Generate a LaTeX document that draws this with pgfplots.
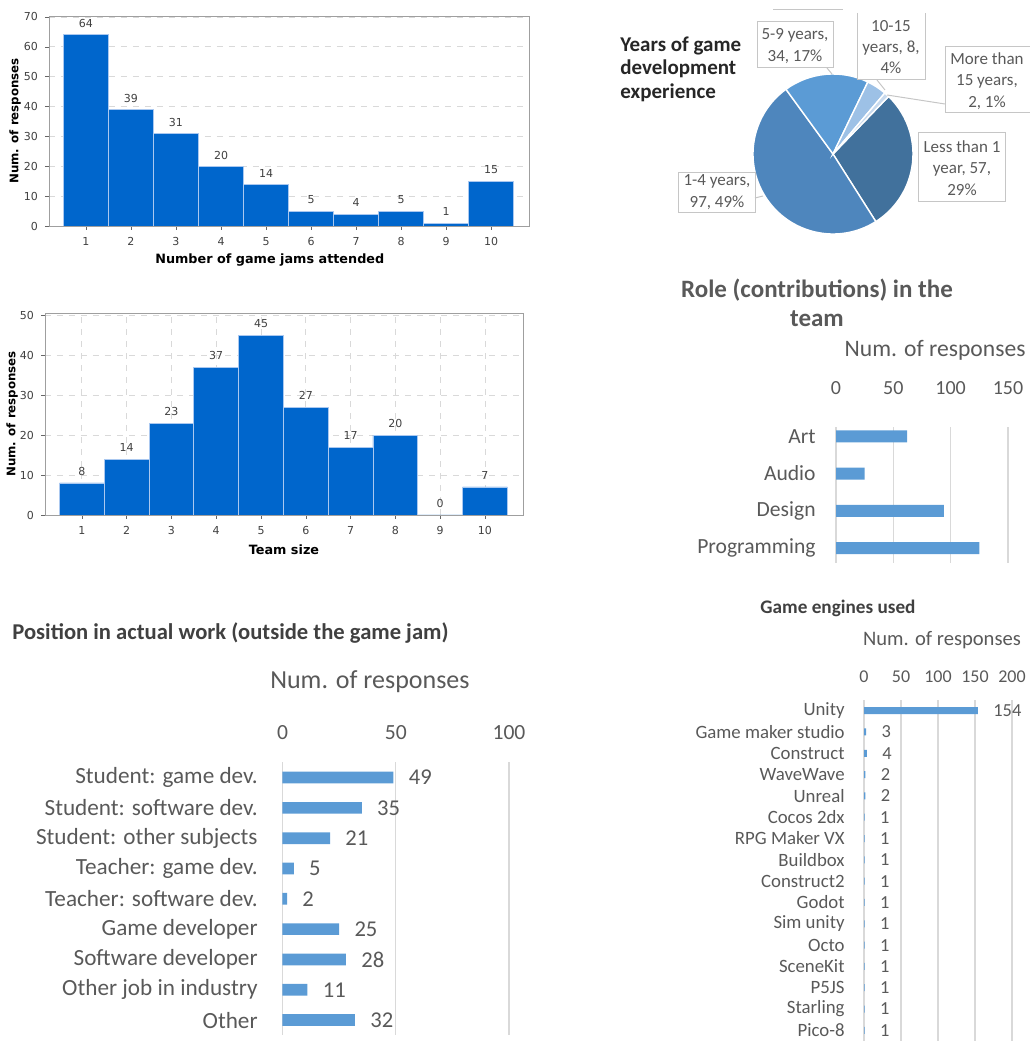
\documentclass[border=0pt]{standalone}
\usepackage{fontspec}
\setmainfont{Carlito}
\newfontfamily\tah{DejaVu Sans}
\usepackage{pgfplots}
\pgfplotsset{compat=1.18}

\definecolor{histblue}{RGB}{0,102,204}
\definecolor{histedge}{RGB}{170,200,240}
\definecolor{xlblue}{RGB}{91,155,213}
\definecolor{xlgray}{RGB}{89,89,89}
\definecolor{xldark}{RGB}{64,64,64}
\definecolor{xlgrid}{RGB}{217,217,217}
\definecolor{pieA}{RGB}{65,113,156}
\definecolor{pieB}{RGB}{78,134,189}
\definecolor{pieC}{RGB}{91,155,213}
\definecolor{pieD}{RGB}{157,193,230}
\definecolor{pieE}{RGB}{200,218,238}

\pgfplotsset{
  hist/.style={
    scale only axis, ybar, bar width=1,
    ymin=0, xtick={1,...,10},
    tick align=outside, xtick pos=left, ytick pos=left,
    major tick length=2pt,
    axis line style={draw=gray!75},
    tick style={gray!80!black},
    ticklabel style={font=\tah\fontsize{5.5}{6}\selectfont, text=black!75},
    xlabel style={font=\tah\bfseries\fontsize{6.4}{7}\selectfont},
    ylabel style={font=\tah\bfseries\fontsize{5.9}{7}\selectfont},
    grid style={dashed, gray!30},
    ylabel={Num. of responses},
    /pgf/number format/assume math mode=true,
    nodes near coords,
    nodes near coords style={font=\tah\fontsize{5.5}{6}\selectfont, text=black!75},
  },
  xl/.style={
    scale only axis, xbar, xmin=0, y dir=reverse,
    axis x line*=top, axis y line*=left,
    axis line style={draw=none}, major tick length=0pt,
    xmajorgrids, grid style={xlgrid, line width=0.6pt},
    ticklabel style={text=xlgray, inner sep=0pt},
    label style={text=xlgray},
    xlabel={Num. of responses},
    /pgf/number format/assume math mode=true,
  },
}

\begin{document}
\begin{tikzpicture}

% game jams attended
\begin{axis}[hist, at={(24.5pt,407.5pt)}, anchor=south west,
  width=240pt, height=105pt, xmin=0.18, xmax=10.84, ymax=70.3,
  ytick={0,10,...,70}, ymajorgrids,
  ylabel style={at={(axis description cs:-0.0708,0.5)}, anchor=center},
  xlabel style={at={(axis description cs:0.46,0)}, anchor=center, yshift=-17pt},
  xlabel={Number of game jams attended}]
\addplot[fill=histblue, draw=histedge, line width=0.4pt] coordinates {
  (1,64) (2,39) (3,31) (4,20) (5,14) (6,5) (7,4) (8,5) (9,1) (10,15)};
\end{axis}

% team size
\begin{axis}[hist, at={(22.5pt,263pt)}, anchor=south west,
  width=239pt, height=101pt, xmin=0.176, xmax=10.85, ymax=50.5,
  ytick={0,10,...,50}, ymajorgrids, xmajorgrids,
  ylabel style={at={(axis description cs:-0.069,0.5)}, anchor=center},
  xlabel style={at={(axis description cs:0.5,0)}, anchor=center, yshift=-17.5pt},
  xlabel={Team size}]
\addplot[fill=histblue, draw=histedge, line width=0.4pt] coordinates {
  (1,8) (2,14) (3,23) (4,37) (5,45) (6,27) (7,17) (8,20) (9,0) (10,7)};
\end{axis}

% years of experience (pie)
\pgfmathsetmacro\aA{46}
\pgfmathsetmacro\aB{\aA-57/198*360}
\pgfmathsetmacro\aC{\aB-97/198*360}
\pgfmathsetmacro\aD{\aC-34/198*360}
\pgfmathsetmacro\aE{\aD-8/198*360}
\pgfmathsetmacro\aF{\aE-2/198*360}
\begin{axis}[at={(416.5pt,443.5pt)}, anchor=center, scale only axis,
  width=80pt, height=80pt, xmin=-1, xmax=1, ymin=-1, ymax=1, hide axis]
\fill[pieA, draw=white, line width=0.7pt] (axis cs:0,0) -- ++(\aA:40pt) arc[start angle=\aA, end angle=\aB, radius=40pt] -- cycle;
\fill[pieB, draw=white, line width=0.7pt] (axis cs:0,0) -- ++(\aB:40pt) arc[start angle=\aB, end angle=\aC, radius=40pt] -- cycle;
\fill[pieC, draw=white, line width=0.7pt] (axis cs:0,0) -- ++(\aC:40pt) arc[start angle=\aC, end angle=\aD, radius=40pt] -- cycle;
\fill[pieD, draw=white, line width=0.7pt] (axis cs:0,0) -- ++(\aD:40pt) arc[start angle=\aD, end angle=\aE, radius=40pt] -- cycle;
\fill[pieE, draw=white, line width=0.7pt] (axis cs:0,0) -- ++(\aE:40pt) arc[start angle=\aE, end angle=\aF, radius=40pt] -- cycle;
\end{axis}

\node[anchor=west, align=left, inner sep=0pt, text=black!85,
  font=\bfseries\fontsize{10.5}{11.8}\selectfont]
  at (310pt,486pt) {Years of game\\development\\experience};
\begin{scope}[draw=gray!45, line width=0.5pt]
  \draw (378.5pt,486.5pt) rectangle (416.5pt,509.5pt);
  \draw (428.5pt,514pt) -- (428.5pt,480.5pt) -- (462.5pt,480.5pt) -- (462.5pt,514pt);
  \draw (472.5pt,464pt) rectangle (515pt,497pt);
  \draw (459pt,419.5pt) rectangle (502.5pt,454pt);
  \draw (339pt,414pt) rectangle (377.5pt,434pt);
  \draw (386.5pt,515.5pt) -- (421.5pt,515.5pt);
  \draw (413.5pt,486.5pt) -- (416pt,483.5pt);
  \draw (438.5pt,480.5pt) -- (442.5pt,475.5pt);
  \draw (443.5pt,473pt) -- (472.5pt,468.5pt);
  \draw (377.5pt,421.5pt) -- (381.5pt,422.5pt);
\end{scope}
\begin{scope}[every node/.style={align=center, text=xlgray, inner sep=0pt,
    font=\fontsize{8.5}{10.7}\selectfont}]
  \node at (397.5pt,497.5pt) {5-9 years,\\34, 17\%};
  \node at (445.5pt,497pt) {10-15\\years, 8,\\4\%};
  \node at (493.5pt,480pt) {More than\\15 years,\\2, 1\%};
  \node at (481pt,436.5pt) {Less than 1\\year, 57,\\29\%};
  \node at (358.5pt,424.5pt) {1-4 years,\\97, 49\%};
\end{scope}

% role in the team
\node[align=center, text=xlgray, font=\bfseries\fontsize{12.5}{14.5}\selectfont]
  at (408.5pt,369.25pt) {Role (contributions) in the\\team};
\begin{axis}[xl, at={(418pt,239pt)}, anchor=south west,
  width=86pt, height=68pt, xmax=150, ymin=-0.25, ymax=3.4,
  bar width=6pt, xtick={0,50,100,150}, ytick={0,1,2,3},
  yticklabels={Art,Audio,Design,Programming},
  xticklabel style={anchor=center, yshift=19.5pt, font=\fontsize{10}{12}\selectfont},
  yticklabel style={anchor=east, xshift=-10pt, font=\fontsize{10.8}{13}\selectfont},
  xlabel style={at={(axis description cs:0.576,1)}, anchor=center, yshift=38.5pt,
    font=\fontsize{11.8}{13}\selectfont}]
\addplot[fill=xlblue, draw=none] coordinates {(62,0) (25,1) (94,2) (125,3)};
\end{axis}

% position in actual work
\node[anchor=west, inner sep=0pt, text=xldark, font=\bfseries\fontsize{11.3}{13}\selectfont]
  at (6pt,204pt) {Position in actual work (outside the game jam)};
\begin{axis}[xl, at={(141.25pt,2.9pt)}, anchor=south west,
  width=113.25pt, height=136.4pt, xmax=100, ymin=-0.5, ymax=8.5,
  bar width=5.85pt, xtick={0,50,100}, ytick={0,...,8},
  yticklabels={Student: game dev., Student: software dev., Student: other subjects,
    Teacher: game dev., Teacher: software dev., Game developer,
    Software developer, Other job in industry, Other},
  xticklabel style={anchor=center, yshift=14.75pt, font=\fontsize{10.8}{12}\selectfont},
  yticklabel style={anchor=east, xshift=-12.25pt, font=\fontsize{11.6}{13}\selectfont},
  xlabel style={at={(axis description cs:0.386,1)}, anchor=center, yshift=40.25pt,
    font=\fontsize{13}{15}\selectfont},
  nodes near coords,
  nodes near coords style={anchor=west, inner sep=0pt, xshift=7.5pt, text=xlgray,
    font=\fontsize{11.3}{13}\selectfont}]
\addplot[fill=xlblue, draw=none] coordinates {
  (49,0) (35,1) (21,2) (5,3) (2,4) (25,5) (28,6) (11,7) (32,8)};
\end{axis}

% game engines used
\node[text=xldark, font=\bfseries\fontsize{9.6}{11}\selectfont]
  at (419pt,216.5pt) {Game engines used};
\begin{axis}[xl, at={(432pt,0pt)}, anchor=south west,
  width=74pt, height=170.5pt, xmax=200, ymin=-0.5, ymax=15.5,
  bar width=3.5pt, xtick={0,50,100,150,200}, ytick={0,...,15},
  yticklabels={Unity, Game maker studio, Construct, WaveWave, Unreal, Cocos 2dx,
    RPG Maker VX, Buildbox, Construct2, Godot, Sim unity, Octo, SceneKit, P5JS,
    Starling, Pico-8},
  xticklabel style={anchor=center, yshift=11.5pt, font=\fontsize{9}{11}\selectfont},
  yticklabel style={anchor=east, xshift=-9.5pt, font=\fontsize{9.4}{11}\selectfont},
  xlabel style={at={(axis description cs:0.527,1)}, anchor=center, yshift=30pt,
    font=\fontsize{10.3}{12}\selectfont},
  nodes near coords,
  nodes near coords style={anchor=west, inner sep=0pt, xshift=7.5pt, text=xlgray,
    font=\fontsize{9.2}{11}\selectfont}]
\addplot[fill=xlblue, draw=none] coordinates {
  (154,0) (3,1) (4,2) (2,3) (2,4) (1,5) (1,6) (1,7) (1,8) (1,9) (1,10)
  (1,11) (1,12) (1,13) (1,14) (1,15)};
\end{axis}

\pgfresetboundingbox
\useasboundingbox (0pt,0pt) rectangle (515pt,520.5pt);
\end{tikzpicture}
\end{document}
